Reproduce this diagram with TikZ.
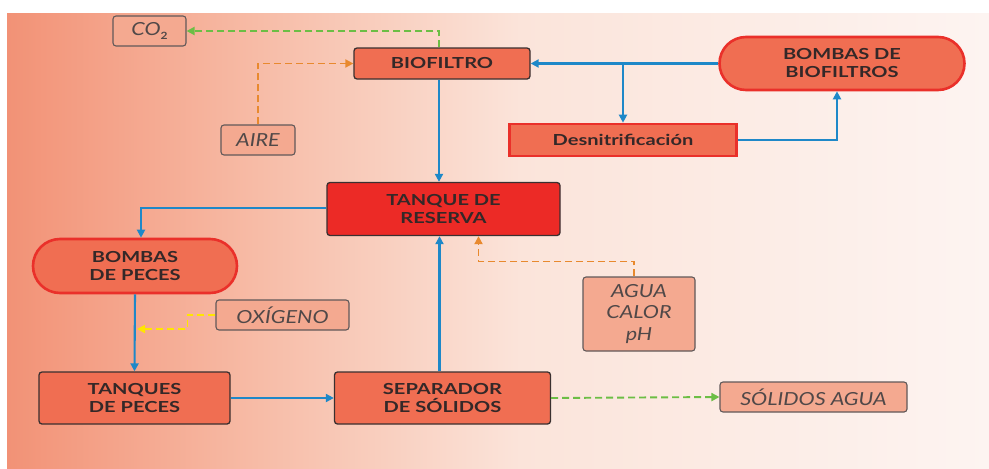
\documentclass[tikz,border=0pt]{standalone}
\usepackage{fontspec}
\setmainfont{Lato}
\newfontfamily\boxfont[FakeStretch=1.32]{Lato}
\newfontfamily\labfont[FakeStretch=1.2]{Lato}
\usetikzlibrary{arrows.meta,shapes.misc}
\definecolor{bgA}{RGB}{242,146,118}
\definecolor{bgB}{RGB}{247,188,167}
\definecolor{bgC}{RGB}{251,228,218}
\definecolor{bgD}{RGB}{253,244,241}
\definecolor{boxfill}{RGB}{240,110,82}
\definecolor{tankfill}{RGB}{236,42,38}
\definecolor{labfill}{RGB}{244,169,144}
\definecolor{border}{RGB}{58,48,48}
\definecolor{redline}{RGB}{234,48,42}
\definecolor{textdark}{RGB}{52,40,40}
\definecolor{labtext}{RGB}{80,72,72}
\definecolor{flowblue}{RGB}{30,136,200}
\definecolor{greenf}{RGB}{108,190,69}
\definecolor{orangef}{RGB}{232,137,46}
\definecolor{yellowf}{RGB}{255,230,0}
\tikzset{
  boxtext/.style={font=\boxfont\bfseries\fontsize{15.2}{18}\selectfont, text=textdark, align=center, inner sep=0pt},
  box/.style={boxtext, draw=border, line width=1.3pt, rounded corners=3pt, fill=boxfill},
  tankbox/.style={box, fill=tankfill},
  stadium/.style={boxtext, rounded rectangle, draw=redline, line width=2.6pt, fill=boxfill},
  redbox/.style={boxtext, rectangle, draw=redline, line width=2.6pt, fill=boxfill},
  lab/.style={font=\labfont\itshape\fontsize{18}{21.5}\selectfont, text=labtext, align=center, inner sep=0pt,
    draw=border!80, line width=1.1pt, rounded corners=3pt, fill=labfill},
  flow/.style={draw=flowblue, line width=2.1pt, -{Triangle[length=8pt,width=8pt]}},
  dashflow/.style={line width=1.9pt, dash pattern=on 7pt off 4pt, -{Triangle[length=8pt,width=8pt]}},
}
\begin{document}
\begin{tikzpicture}[x=1pt,y=-1pt]
\useasboundingbox (0,0) rectangle (989,469);
\fill[white] (0,0) rectangle (989,469);
\shade[left color=bgA, right color=bgB] (7,13) rectangle (260.5,469);
\shade[left color=bgB, right color=bgC] (260,13) rectangle (520.5,469);
\shade[left color=bgC, right color=bgD] (520,13) rectangle (989,469);

\node[lab, minimum width=73pt, minimum height=30pt] (co2) at (149.5,31) {CO\raisebox{-4pt}{\upshape\bfseries\fontsize{10}{10}\selectfont 2}};
\node[box, minimum width=176pt, minimum height=31pt] (bio) at (442,63.5) {BIOFILTRO};
\node[lab, minimum width=74pt, minimum height=30pt] (aire) at (258,140) {AIRE};
\node[tankbox, minimum width=233pt, minimum height=53pt] (tank) at (443.5,209) {TANQUE DE\\RESERVA};
\node[stadium, minimum width=245pt, minimum height=53pt] (bbio) at (842,63.5) {BOMBAS DE\\BIOFILTROS};
\node[redbox, minimum width=227pt, minimum height=32pt] (desn) at (623,140) {Desnitrificación};
\node[stadium, minimum width=204pt, minimum height=54pt] (bpec) at (135,266) {BOMBAS\\DE PECES};
\node[lab, minimum width=133pt, minimum height=30pt] (oxi) at (282.5,315) {OXÍGENO};
\node[box, minimum width=191pt, minimum height=52pt] (tpec) at (134.5,398) {TANQUES\\DE PECES};
\node[box, minimum width=216pt, minimum height=52pt] (sep) at (442.5,398) {SEPARADOR\\DE SÓLIDOS};
\node[lab, minimum width=112pt, minimum height=74pt] (agua) at (639,314) {AGUA\\CALOR\\pH};
\node[lab, minimum width=187pt, minimum height=30pt] (sol) at (813.5,397) {SÓLIDOS AGUA};

\coordinate (oxin) at (137,329);

\draw[dashflow, draw=greenf] ([xshift=-3pt]bio.north) |- (co2.east);
\draw[dashflow, draw=orangef] (aire.north) |- (bio.west);
\draw[flow] ([xshift=-3pt]bio.south) -- ([xshift=-3pt]bio.south |- tank.north);
\draw[flow] (bbio.west) -- (bio.east);
\draw[flow] (desn.north |- bio.east) -- (desn.north);
\draw[flow] (desn.east) -| ([xshift=-5pt]bbio.south);
\draw[flow] ([yshift=1pt]tank.west) -| ([xshift=6pt]bpec.north);
\draw[flow] (bpec.south) -- (tpec.north);
\draw[dashflow, draw=yellowf] (oxi.west) -- ++(-28,0) |- (oxin);
\draw[flow] (tpec.east) -- (sep.west);
\draw[flow] ([xshift=-3pt]sep.north) -- ([xshift=-3pt]sep.north |- tank.south);
\draw[dashflow, draw=orangef] ([xshift=-5pt]agua.north) -- ++(0,-15) -| ([xshift=35pt]tank.south);
\draw[dashflow, draw=greenf] (sep.east) -- (sol.west);
\end{tikzpicture}
\end{document}
